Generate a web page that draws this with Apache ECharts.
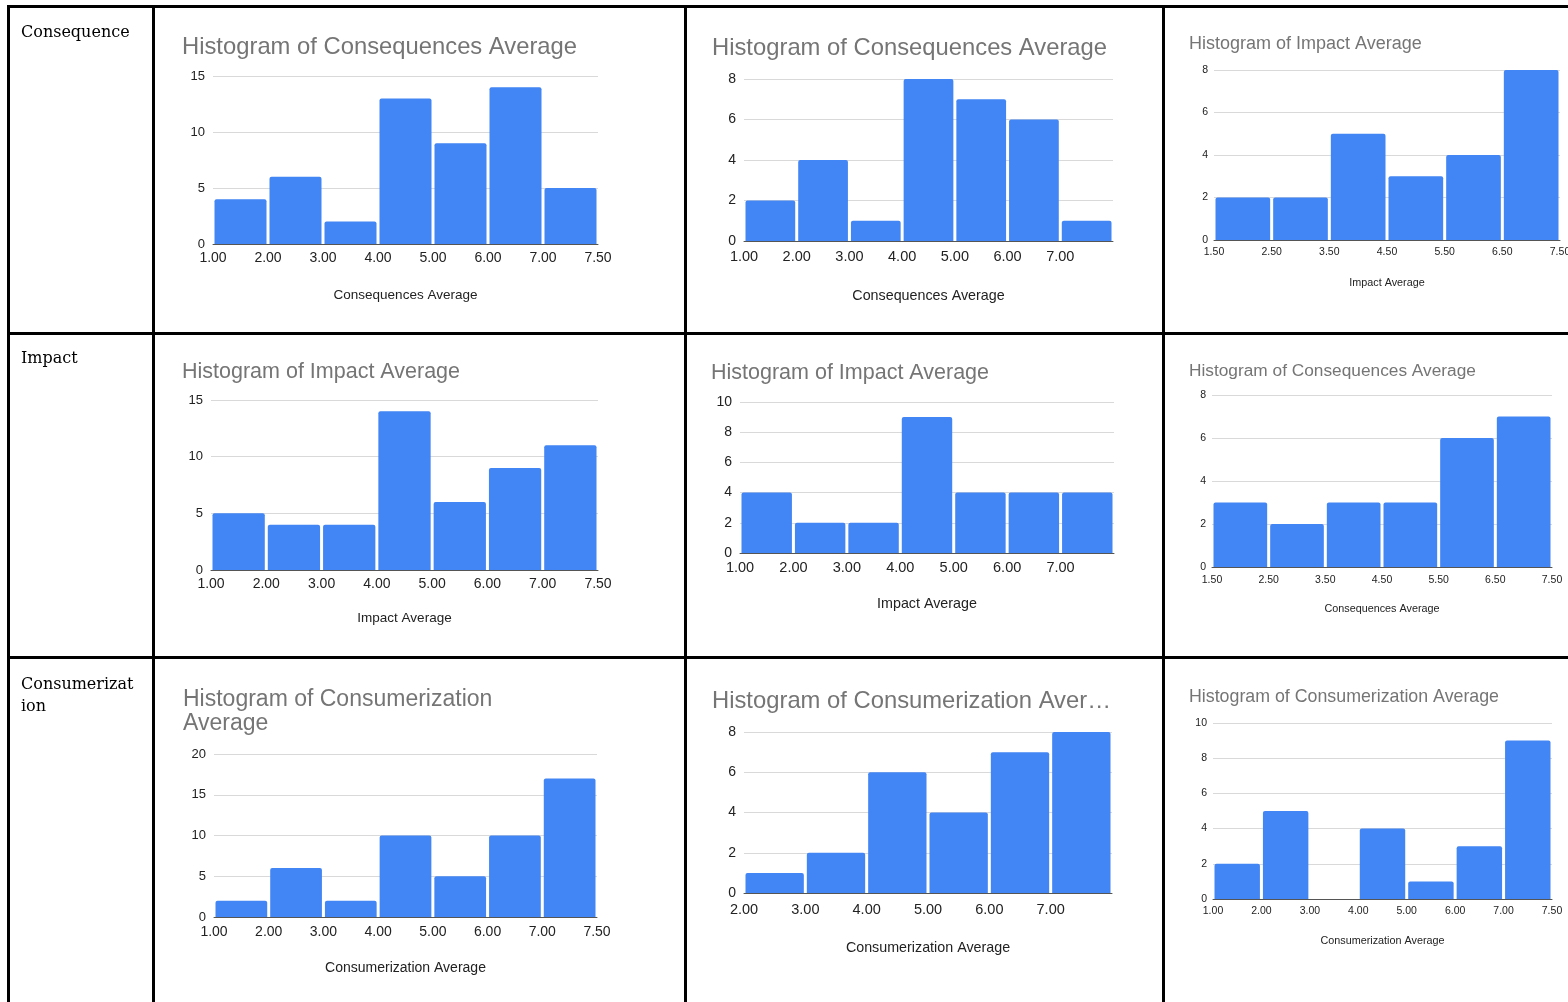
<!DOCTYPE html>
<html>
<head>
<meta charset="utf-8">
<script src="https://cdn.jsdelivr.net/npm/echarts@6/dist/echarts.min.js"></script>
<style>
  html, body { margin: 0; padding: 0; background: #ffffff; overflow: hidden; }
  #main { width: 1568px; height: 1002px; }
</style>
</head>
<body>
<div id="main"></div>
<script>
// ---- Row headings of the comparison table ----
const rowLabels = ['Consequence', 'Impact', 'Consumerization'];

// ---- Bin edge labels shown under each histogram ----
const edgesOneToSevenHalf = ['1.00', '2.00', '3.00', '4.00', '5.00', '6.00', '7.00', '7.50'];
const edgesOneToSeven     = ['1.00', '2.00', '3.00', '4.00', '5.00', '6.00', '7.00'];
const edgesHalfSteps      = ['1.50', '2.50', '3.50', '4.50', '5.50', '6.50', '7.50'];
const edgesTwoToSeven     = ['2.00', '3.00', '4.00', '5.00', '6.00', '7.00'];

// ---- Counts per bin (one array per histogram) ----
const consequenceA = [4, 6, 2, 13, 9, 14, 5];
const consequenceB = [2, 4, 1, 8, 7, 6, 1];
const consequenceC = [2, 2, 5, 3, 4, 8];
const impactA      = [5, 4, 4, 14, 6, 9, 11];
const impactB      = [4, 2, 2, 9, 4, 4, 4];
const impactC      = [3, 2, 3, 3, 6, 7];
const consumerA    = [2, 6, 2, 10, 5, 10, 17];
const consumerB    = [1, 2, 6, 4, 7, 8];
const consumerC    = [2, 5, 0, 4, 1, 3, 9];

// ---- Value-axis ranges (max, step) ----
const yMaxes = [15, 8, 8, 15, 10, 8, 20, 8, 10];
const ySteps = [5, 2, 2, 5, 2, 2, 5, 2, 2];

// ---- Titles and axis names ----
const titles = [
  'Histogram of Consequences Average', 'Histogram of Consequences Average', 'Histogram of Impact Average',
  'Histogram of Impact Average', 'Histogram of Impact Average', 'Histogram of Consequences Average',
  'Histogram of Consumerization Average', 'Histogram of Consumerization Average', 'Histogram of Consumerization Average'
];
const axisNames = [
  'Consequences Average', 'Consequences Average', 'Impact Average',
  'Impact Average', 'Impact Average', 'Consequences Average',
  'Consumerization Average', 'Consumerization Average', 'Consumerization Average'
];

const panelCounts = [consequenceA, consequenceB, consequenceC, impactA, impactB, impactC, consumerA, consumerB, consumerC];
const panelEdges  = [edgesOneToSevenHalf, edgesOneToSeven, edgesHalfSteps,
                     edgesOneToSevenHalf, edgesOneToSeven, edgesHalfSteps,
                     edgesOneToSevenHalf, edgesTwoToSeven, edgesOneToSevenHalf];

// ---- Placement of each histogram on the page (pixels) ----
// gx/gy/gw/gh: plot box; tx/ty: title; tf: title size; tw: title width (wrap / cut);
// yf/xf/nf: font sizes of y labels, x labels, axis name; lm: x-label margin; ng: name gap
const layout = [
  { gx: 213,  gy: 76,  gw: 385, gh: 168, tx: 182,  ty: 35,  tf: 23.8, tw: 0,   cut: false, yf: 13,   xf: 14,   nf: 13.5, lm: 7, ng: 44 },
  { gx: 744,  gy: 79,  gw: 369, gh: 162, tx: 712,  ty: 36,  tf: 23.8, tw: 0,   cut: false, yf: 14,   xf: 14.5, nf: 14.3, lm: 8, ng: 48 },
  { gx: 1214, gy: 70,  gw: 346, gh: 170, tx: 1189, ty: 35,  tf: 18,   tw: 0,   cut: false, yf: 10.5, xf: 10.5, nf: 10.8, lm: 7, ng: 37.5 },
  { gx: 211,  gy: 400, gw: 387, gh: 170, tx: 182,  ty: 361, tf: 21.5, tw: 0,   cut: false, yf: 13,   xf: 14,   nf: 13.5, lm: 7, ng: 41 },
  { gx: 740,  gy: 402, gw: 374, gh: 151, tx: 711,  ty: 362, tf: 21.5, tw: 0,   cut: false, yf: 14,   xf: 14.5, nf: 14.3, lm: 7, ng: 44 },
  { gx: 1212, gy: 395, gw: 340, gh: 172, tx: 1189, ty: 362, tf: 17.3, tw: 0,   cut: false, yf: 10.5, xf: 10.5, nf: 10.8, lm: 8, ng: 36.5 },
  { gx: 214,  gy: 754, gw: 383, gh: 163, tx: 183,  ty: 688, tf: 23,   tw: 340, cut: false, yf: 13,   xf: 14,   nf: 14,   lm: 8, ng: 44 },
  { gx: 744,  gy: 732, gw: 368, gh: 161, tx: 712,  ty: 689, tf: 23.8, tw: 400, cut: true,  yf: 14,   xf: 14.5, nf: 14.3, lm: 9, ng: 48 },
  { gx: 1213, gy: 723, gw: 339, gh: 176, tx: 1189, ty: 688, tf: 17.8, tw: 0,   cut: false, yf: 10.5, xf: 10.5, nf: 10.8, lm: 7, ng: 36.5 }
];

const SANS = '"Liberation Sans", Arial, Helvetica, sans-serif';
const BAR_BLUE = '#4285f4';

// Shorten a title so that it plus an ellipsis fits in maxWidth
const measureCtx = document.createElement('canvas').getContext('2d');
function fitWithEllipsis(text, fontSize, maxWidth) {
  measureCtx.font = fontSize + 'px ' + SANS;
  if (measureCtx.measureText(text).width <= maxWidth) return text;
  let n = text.length;
  while (n > 0 && measureCtx.measureText(text.slice(0, n) + '…').width > maxWidth) n--;
  return text.slice(0, n) + '…';
}

const grids = [], xAxes = [], yAxes = [], series = [], titleList = [];

panelCounts.forEach((counts, i) => {
  const L = layout[i];
  const edges = panelEdges[i];

  grids.push({ left: L.gx, top: L.gy, width: L.gw, height: L.gh, containLabel: false, outerBoundsMode: 'none' });

  const titleStyle = { fontFamily: SANS, fontSize: L.tf, fontWeight: 'normal', color: '#757575', lineHeight: Math.round(L.tf * 1.05) };
  let titleText = titles[i];
  if (L.tw && L.cut) {
    titleText = fitWithEllipsis(titleText, L.tf, L.tw);
  } else if (L.tw) {
    titleStyle.width = L.tw;
    titleStyle.overflow = 'break';
  }
  titleList.push({ text: titleText, left: L.tx, top: L.ty, padding: 0, textStyle: titleStyle });

  xAxes.push({
    gridIndex: i, type: 'value', min: 0, max: counts.length, interval: 1,
    name: axisNames[i], nameLocation: 'middle', nameGap: L.ng,
    nameTextStyle: { fontFamily: SANS, fontSize: L.nf, color: '#222222' },
    axisLine: { show: true, lineStyle: { color: '#555555', width: 1 } },
    axisTick: { show: false }, splitLine: { show: false },
    axisLabel: {
      show: true, showMinLabel: true, showMaxLabel: true, margin: L.lm,
      fontFamily: SANS, fontSize: L.xf, color: '#222222',
      formatter: v => edges[Math.round(v)] || ''
    }
  });

  yAxes.push({
    gridIndex: i, type: 'value', min: 0, max: yMaxes[i], interval: ySteps[i],
    axisLine: { show: false }, axisTick: { show: false },
    splitLine: { show: true, lineStyle: { color: '#d9d9d9', width: 1 } },
    axisLabel: { margin: i % 3 === 2 ? 6 : 8, fontFamily: SANS, fontSize: L.yf, color: '#222222' }
  });

  series.push({
    type: 'custom', xAxisIndex: i, yAxisIndex: i, silent: true, clip: false,
    data: counts.map((c, k) => [k, c]),
    encode: { x: 0, y: 1 },
    renderItem: (params, api) => {
      const k = api.value(0), c = api.value(1);
      if (!c) return null;
      const top = api.coord([k, c]);
      const base = api.coord([k + 1, 0]);
      return {
        type: 'rect',
        shape: { x: top[0] + 1.5, y: top[1], width: base[0] - top[0] - 3, height: base[1] - top[1], r: [2, 2, 0, 0] },
        style: { fill: BAR_BLUE }
      };
    }
  });
});

// ---- Table rules and row headings ----
const RULE = '#000000';
const graphics = [
  { type: 'rect', shape: { x: 7, y: 5, width: 1570, height: 3 }, style: { fill: RULE } },
  { type: 'rect', shape: { x: 7, y: 5, width: 3, height: 1010 }, style: { fill: RULE } },
  { type: 'rect', shape: { x: 152, y: 5, width: 3, height: 1010 }, style: { fill: RULE } },
  { type: 'rect', shape: { x: 684, y: 5, width: 3, height: 1010 }, style: { fill: RULE } },
  { type: 'rect', shape: { x: 1162, y: 5, width: 3, height: 1010 }, style: { fill: RULE } },
  { type: 'rect', shape: { x: 7, y: 332, width: 1570, height: 3 }, style: { fill: RULE } },
  { type: 'rect', shape: { x: 7, y: 656, width: 1570, height: 3 }, style: { fill: RULE } }
];
const rowTops = [22, 348, 674];
rowLabels.forEach((label, r) => {
  graphics.push({
    type: 'text', left: 21, top: rowTops[r],
    style: {
      text: label, fill: '#000000', font: '16px "DejaVu Serif", Georgia, serif',
      width: 118, overflow: 'breakAll', lineHeight: 22
    }
  });
});

const chart = echarts.init(document.getElementById('main'), null, { renderer: 'canvas' });
chart.setOption({
  backgroundColor: '#ffffff',
  animation: false,
  title: titleList,
  grid: grids,
  xAxis: xAxes,
  yAxis: yAxes,
  series: series,
  graphic: graphics
});
</script>
</body>
</html>
